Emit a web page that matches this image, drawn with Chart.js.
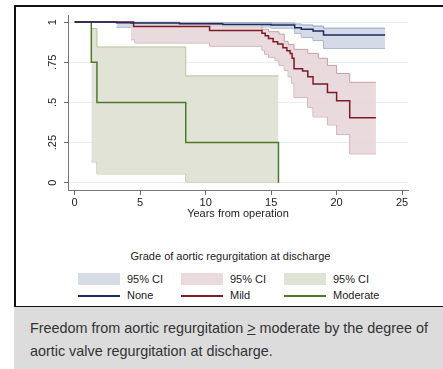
<!DOCTYPE html>
<html>
<head>
<meta charset="utf-8">
<script src="https://cdn.jsdelivr.net/npm/chart.js@4"></script>
<style>
  body { margin: 0; width: 443px; height: 369px; background: #fff; overflow: hidden;
         font-family: "Liberation Sans", Arial, sans-serif; }
  .frame { position: absolute; left: 14px; top: 5px; width: 427px; height: 299px;
           border: 2px solid #111; border-right-width: 1px; }
  #chart { position: absolute; left: 0; top: 0; }
  .legend-title { position: absolute; left: 0; width: 461px; top: 250px; text-align: center;
                  font-size: 11px; color: #222; }
  .sw { position: absolute; width: 42px; height: 12px; }
  .ln { position: absolute; width: 42px; height: 1.5px; }
  .lt { position: absolute; font-size: 11px; color: #222; line-height: 13px; }
  .caption { position: absolute; left: 14px; top: 307px; width: 429px; height: 62px;
             background: #dcdcdc; }
  .caption div { position: absolute; left: 16px; white-space: nowrap; transform-origin: 0 50%;
                 font-family: "Liberation Sans", Arial, sans-serif; font-size: 15px;
                 line-height: 18px; color: #333; }
</style>
</head>
<body>
<div class="frame"></div>
<canvas id="chart" width="443" height="230"></canvas>
<div class="legend-title">Grade of aortic regurgitation at discharge</div>
<div id="legend"></div>
<div class="caption">
  <div id="cap1" style="top:12px">Freedom from aortic regurgitation <u>&gt;</u> moderate by the degree of</div>
  <div id="cap2" style="top:35px">aortic valve regurgitation at discharge.</div>
</div>
<script>
// Kaplan-Meier estimates
const noneT = [0, 3.2, 4.3, 8.0, 11.3, 15.0, 16.8, 17.3, 18.2, 19.0, 23.7];
const noneS = [1, 0.996, 0.994, 0.99, 0.985, 0.981, 0.965, 0.955, 0.945, 0.92, 0.92];
const noneCiT = [3.2, 4.3, 8.0, 11.3, 15.0, 16.8, 17.3, 18.2, 19.0, 23.7];
const noneUpper = [1.0, 0.999, 0.998, 0.996, 0.994, 0.988, 0.982, 0.975, 0.962, 0.962];
const noneLower = [0.968, 0.978, 0.975, 0.97, 0.962, 0.93, 0.905, 0.885, 0.836, 0.836];

const mildT = [0, 4.5, 10.3, 14.3, 14.55, 14.8, 15.15, 15.5, 15.9, 16.2, 16.45, 16.6, 16.75, 17.4, 17.8, 18.2, 19.3, 20.0, 21.0, 23.0];
const mildS = [1, 0.972, 0.948, 0.93, 0.915, 0.898, 0.878, 0.863, 0.84, 0.822, 0.805, 0.775, 0.71, 0.695, 0.66, 0.614, 0.562, 0.51, 0.405, 0.405];
const mildCiT = [4.3, 4.6, 10.3, 14.3, 14.5, 14.8, 15.3, 15.6, 16.0, 16.3, 16.55, 16.75, 17.8, 18.2, 18.6, 19.3, 20.0, 21.0, 23.0];
const mildUpper = [0.995, 0.995, 0.985, 0.955, 0.955, 0.94, 0.94, 0.925, 0.88, 0.86, 0.86, 0.83, 0.805, 0.805, 0.775, 0.73, 0.68, 0.625, 0.625];
const mildLower = [0.89, 0.87, 0.85, 0.825, 0.80, 0.78, 0.76, 0.73, 0.70, 0.66, 0.62, 0.53, 0.47, 0.41, 0.41, 0.36, 0.30, 0.18, 0.18];

const modT = [0, 1.27, 1.7, 8.48, 15.56];
const modS = [1, 0.75, 0.5, 0.25, 0];
const modCiT = [1.27, 1.7, 8.48, 15.56];
const modUpper = [0.96, 0.845, 0.665, 0.665];
const modLower = [0.13, 0.055, 0.005, 0.005];

const xTicks = [0, 5, 10, 15, 20, 25];
const yTicks = [0, 0.25, 0.5, 0.75, 1];
const yTickLabels = ['0', '.25', '.5', '.75', '1'];

const groups = [
    { name: 'None', line: '#1d2c5f', band: 'rgba(204,212,226,0.85)', edge: '#93a1c2', swatch: '#d6dce6' },
    { name: 'Mild', line: '#7e1b25', band: 'rgba(228,211,215,0.85)', edge: '#c99fa6', swatch: '#e8dadd' },
    { name: 'Moderate', line: '#4e7a28', band: 'rgba(222,226,212,0.95)', edge: '#b5c49c', swatch: '#dfe3d6' }
];

const pts = (xs, ys) => xs.map((x, i) => ({ x: x, y: ys[i] }));

const curves = [
    { t: noneT, s: noneS, ciT: noneCiT, up: noneUpper, lo: noneLower },
    { t: mildT, s: mildS, ciT: mildCiT, up: mildUpper, lo: mildLower },
    { t: modT, s: modS, ciT: modCiT, up: modUpper, lo: modLower }
];

const datasets = [];
curves.forEach((c, i) => {
    const g = groups[i];
    datasets.push({
        label: g.name, data: pts(c.t, c.s), stepped: true, borderColor: g.line,
        borderWidth: 1.5, pointRadius: 0, fill: false, order: 0
    });
});
// bands: upper fills down to the next dataset (its lower bound)
[2, 1, 0].forEach(i => {
    const c = curves[i], g = groups[i];
    datasets.push({
        label: '95% CI', data: pts(c.ciT, c.up), stepped: true, borderColor: g.edge,
        borderWidth: 1, pointRadius: 0, backgroundColor: g.band, fill: '+1', order: 1
    });
    datasets.push({
        label: '95% CI', data: pts(c.ciT, c.lo), stepped: true, borderColor: g.edge,
        borderWidth: 1, pointRadius: 0, fill: false, order: 1
    });
});

const font = { family: '"Liberation Sans", Arial, sans-serif', size: 11 };

new Chart(document.getElementById('chart'), {
    type: 'line',
    data: { datasets: datasets },
    options: {
        responsive: false,
        animation: false,
        layout: { padding: { top: 15, right: 35, left: 0, bottom: 0 } },
        plugins: { legend: { display: false }, tooltip: { enabled: false } },
        scales: {
            x: {
                type: 'linear', min: -0.51, max: 25.45,
                afterBuildTicks: (s) => { s.ticks = xTicks.map(v => ({ value: v })); },
                afterFit: (s) => { s.height = 40; },
                ticks: { color: '#222', font: font, padding: 1, maxRotation: 0 },
                grid: { drawOnChartArea: false, tickLength: 5, tickColor: '#666' },
                border: { color: '#777', width: 1 },
                title: { display: true, text: 'Years from operation', color: '#222', font: font,
                         padding: { top: 0, bottom: 9 } }
            },
            y: {
                min: -0.045, max: 1.044,
                afterBuildTicks: (s) => { s.ticks = yTicks.map(v => ({ value: v })); },
                afterFit: (s) => { s.width = 68; },
                ticks: {
                    color: '#222', font: font, padding: 3, minRotation: 90, maxRotation: 90,
                    crossAlign: 'center',
                    callback: (v) => yTickLabels[yTicks.indexOf(v)]
                },
                grid: { color: '#e6eef0', tickLength: 4, tickColor: '#666' },
                border: { color: '#777', width: 1 }
            }
        }
    }
});

// legend in Stata style: three columns, band row over line row
const legend = document.getElementById('legend');
const colX = [78, 181, 284];
groups.forEach((g, i) => {
    legend.insertAdjacentHTML('beforeend',
        `<div class="sw" style="left:${colX[i]}px;top:273px;background:${g.swatch}"></div>` +
        `<div class="lt" style="left:${colX[i] + 49}px;top:273px">95% CI</div>` +
        `<div class="ln" style="left:${colX[i]}px;top:295px;background:${g.line}"></div>` +
        `<div class="lt" style="left:${colX[i] + 49}px;top:289px">${g.name}</div>`);
});

// the caption font is condensed; squeeze the first line to its width in the picture
const cap1 = document.getElementById('cap1');
const cap2 = document.getElementById('cap2');
const k = 398 / cap1.getBoundingClientRect().width;
cap1.style.transform = `scaleX(${k})`;
cap2.style.transform = `scaleX(${k})`;
</script>
</body>
</html>
